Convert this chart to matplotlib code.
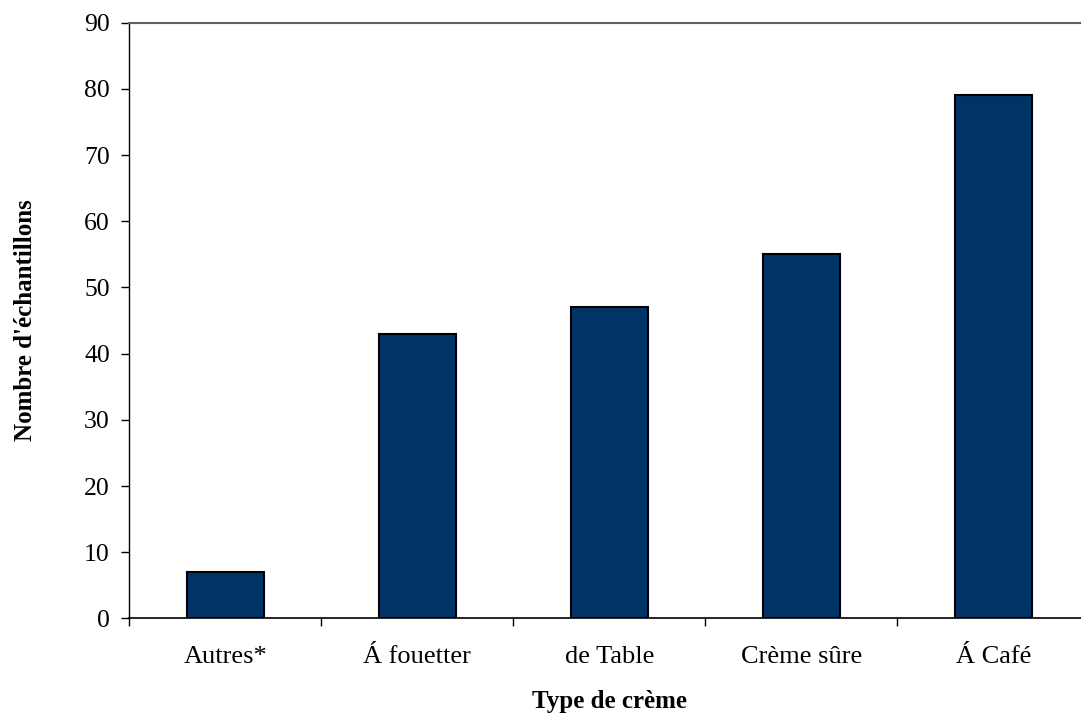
# -*- coding: utf-8 -*-
"""
 Nombre d'échantillons par type de crème
"""

import numpy as np
import matplotlib.pyplot as plt

types = ['Autres*', 'Á fouetter', 'de Table', 'Crème sûre', 'Á Café']
echantillons = [7, 43, 47, 55, 79]
yticks = np.arange(0, 100, 10)

plt.rcParams['font.family'] = ['Liberation Serif', 'DejaVu Serif']

fig = plt.figure(figsize=(10.81, 7.17), dpi=100)
ax = fig.add_axes([0.1196, 0.1374, 0.888, 0.831])

x = np.arange(len(types))
ax.bar(x, echantillons, width=0.4, color='#003366',
       edgecolor='black', linewidth=1.5, zorder=3)

ax.set_xlim(-0.5, len(types) - 0.5)
ax.set_ylim(0, 90)

# tick marks between categories, labels centred under the bars
ax.set_xticks(np.arange(len(types) + 1) - 0.5)
ax.set_xticklabels([])
ax.set_xticks(x, minor=True)
ax.set_xticklabels(types, minor=True, fontsize=19)
ax.tick_params(axis='x', which='major', direction='out', length=6,
               width=1, color='black')
ax.tick_params(axis='x', which='minor', length=0, pad=20)

ax.set_yticks(yticks)
ax.set_yticklabels([str(v) for v in yticks], fontsize=18.5)
ax.tick_params(axis='y', direction='out', length=6, width=1, pad=8)

ax.spines['right'].set_visible(False)
ax.spines['top'].set_color('#606060')
ax.spines['top'].set_linewidth(1.5)
ax.spines['left'].set_linewidth(1)
ax.spines['bottom'].set_linewidth(1.2)

ax.set_xlabel('Type de crème', fontsize=18, fontweight='bold', labelpad=16)
ax.set_ylabel("Nombre d'échantillons", fontsize=18, fontweight='bold',
              labelpad=34)

fig.savefig('out.png', dpi=100)
